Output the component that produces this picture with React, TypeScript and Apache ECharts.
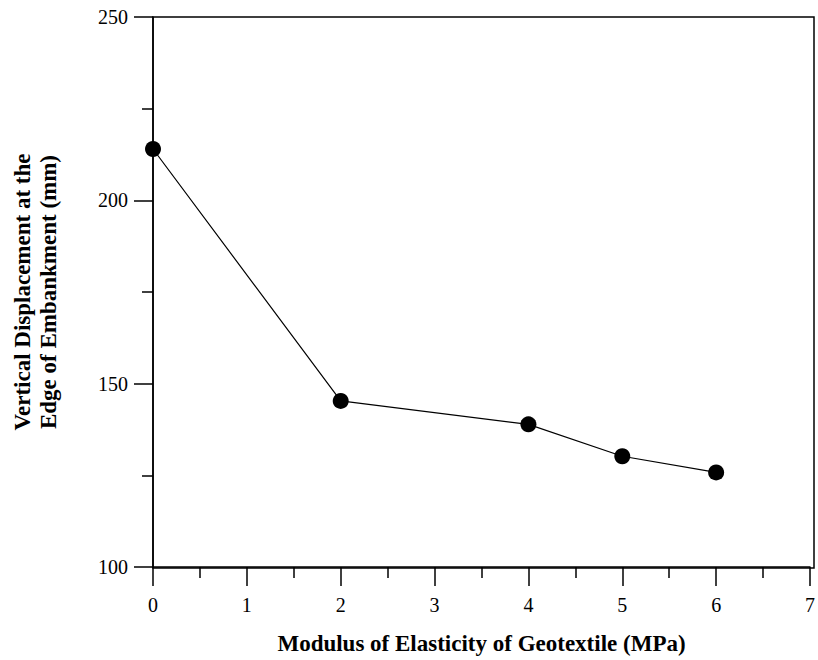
import React, { useEffect, useRef } from "react";
import * as echarts from "echarts";

const modulus = [0, 2, 4, 5, 6];
const displacement = [214, 145.3, 138.9, 130.2, 125.8];
const xTitle = "Modulus of Elasticity of Geotextile (MPa)";
const yTitleLines = ["Vertical Displacement at the", "Edge of Embankment (mm)"];

const FONT = "Times New Roman, Liberation Serif, DejaVu Serif, serif";

export default function App() {
  const ref = useRef<HTMLDivElement>(null);
  useEffect(() => {
    if (!ref.current) return;
    const chart = echarts.init(ref.current, null, { renderer: "svg" });
    chart.setOption({
      animation: false,
      backgroundColor: "#ffffff",
      textStyle: { fontFamily: FONT },
      grid: { left: 153, right: 4, top: 17, bottom: 92, containLabel: false },
      xAxis: {
        type: "value",
        min: 0,
        max: 7,
        interval: 1,
        axisLine: { show: true, onZero: false, lineStyle: { color: "#000", width: 1.5 } },
        axisTick: { show: true, inside: false, length: 19, lineStyle: { color: "#000", width: 1.5 } },
        minorTick: { show: true, splitNumber: 2, length: 11, lineStyle: { color: "#000", width: 1.5 } },
        splitLine: { show: false },
        axisLabel: { margin: 28, color: "#000", fontSize: 20, fontFamily: FONT },
        name: xTitle,
        nameLocation: "middle",
        nameGap: 65,
        nameTextStyle: { color: "#000", fontSize: 23, fontWeight: "bold", fontFamily: FONT },
      },
      yAxis: {
        type: "value",
        min: 100,
        max: 250,
        interval: 50,
        axisLine: { show: true, onZero: false, lineStyle: { color: "#000", width: 1.5 } },
        axisTick: { show: true, inside: false, length: 19, lineStyle: { color: "#000", width: 1.5 } },
        minorTick: { show: true, splitNumber: 2, length: 11, lineStyle: { color: "#000", width: 1.5 } },
        splitLine: { show: false },
        axisLabel: { margin: 25, color: "#000", fontSize: 20, fontFamily: FONT },
      },
      graphic: [
        {
          type: "rect",
          shape: { x: 153, y: 17, width: 661, height: 551 },
          style: { fill: "none", stroke: "#000", lineWidth: 1.5 },
          silent: true,
          z: 0,
        },
        {
          type: "text",
          x: 35,
          y: 292,
          rotation: Math.PI / 2,
          style: {
            text: yTitleLines.join("\n"),
            fill: "#000",
            fontFamily: FONT,
            fontSize: 23,
            fontWeight: "bold",
            textAlign: "center",
            textVerticalAlign: "middle",
            lineHeight: 26,
          },
        },
      ],
      series: [
        {
          type: "line",
          data: modulus.map((x, i) => [x, displacement[i]]),
          symbol: "circle",
          symbolSize: 16,
          lineStyle: { color: "#000", width: 1.2 },
          itemStyle: { color: "#000" },
          z: 5,
        },
      ],
    });
    return () => chart.dispose();
  }, []);
  return <div ref={ref} style={{ width: 818, height: 660, position: "absolute", left: 0, top: 0 }} />;
}
